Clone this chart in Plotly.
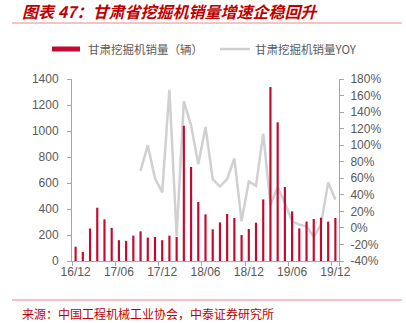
import plotly.graph_objects as go

months = ["16/12", "17/01", "17/02", "17/03", "17/04", "17/05", "17/06", "17/07", "17/08", "17/09",
          "17/10", "17/11", "17/12", "18/01", "18/02", "18/03", "18/04", "18/05", "18/06", "18/07",
          "18/08", "18/09", "18/10", "18/11", "18/12", "19/01", "19/02", "19/03", "19/04", "19/05",
          "19/06", "19/07", "19/08", "19/09", "19/10", "19/11", "19/12"]
sales = [110, 70, 250, 410, 320, 255, 160, 155, 195, 228,
         180, 185, 160, 195, 185, 1040, 723, 454, 359, 244,
         297, 362, 331, 200, 246, 295, 474, 1338, 1067, 569,
         382, 251, 303, 323, 333, 303, 331]
yoy = [None, None, None, None, None, None, None, None, None, 69,
       100, 60, 43, 167, -10, 153, 124, 77, 122, 59,
       50, 59, 84, 8, 56, 51, 114, 28, 49, 30,
       8, 4, 2, -11, 4, 55, 34]
tick_labels = ["16/12", "17/06", "17/12", "18/06", "18/12", "19/06", "19/12"]
left_ticks = [0, 200, 400, 600, 800, 1000, 1200, 1400]
right_ticks = [-40, -20, 0, 20, 40, 60, 80, 100, 120, 140, 160, 180]
right_labels = [f"{v}%" for v in right_ticks]

RED = "#C3092F"
GRAY_LINE = "#D0D0D0"
AXIS = "#A6A6A6"
TICKFONT = dict(family="Liberation Sans, Arial, sans-serif", size=12, color="#595959")
CJK = "Noto Sans CJK SC"

fig = go.Figure()
# YOY line on the primary (right-side) axis so that the bars, on the overlaying axis, sit on top
fig.add_trace(go.Scatter(x=months, y=yoy, mode="lines", line=dict(color=GRAY_LINE, width=2.5),
                         name="甘肃挖掘机销量YOY", yaxis="y", connectgaps=False))
fig.add_trace(go.Bar(x=months, y=sales, marker=dict(color=RED, line=dict(width=0)),
                     name="甘肃挖掘机销量（辆）", yaxis="y2"))

fig.update_layout(
    width=406, height=323,
    margin=dict(l=72, r=67, t=79, b=62),
    paper_bgcolor="white", plot_bgcolor="white",
    showlegend=False,
    bargap=0.7,
    title=dict(text="<b><i>图表 47：甘肃省挖掘机销量增速企稳回升</i></b>",
               xref="container", yref="container", x=22/406, y=1 - 12/323,
               xanchor="left", yanchor="middle",
               font=dict(family=CJK, size=16, color="#C00000")),
    xaxis=dict(type="category", tickmode="array", tickvals=tick_labels, ticktext=tick_labels,
               tickson="boundaries", ticks="outside", ticklen=4, tickcolor=AXIS, tickangle=0,
               showline=True, linecolor=AXIS, linewidth=1, showgrid=False,
               tickfont=TICKFONT, range=[-0.5, 36.5]),
    yaxis=dict(range=[-40, 180], tickmode="array", tickvals=right_ticks, ticktext=right_labels,
               side="right", ticks="outside", ticklen=4, tickcolor=AXIS,
               showline=True, linecolor=AXIS, linewidth=1, showgrid=False, zeroline=False,
               tickfont=TICKFONT, ticklabelstandoff=4),
    yaxis2=dict(range=[0, 1400], tickvals=left_ticks, overlaying="y", side="left",
                ticks="outside", ticklen=4, tickcolor=AXIS,
                showline=True, linecolor=AXIS, linewidth=1, showgrid=False, zeroline=False,
                tickfont=TICKFONT, ticklabelstandoff=6),
)

def px_x(p):
    return (p - 72) / 267

def px_y(p):
    return (261 - p) / 182

fig.add_shape(type="line", xref="paper", yref="paper", x0=px_x(12), x1=px_x(402),
              y0=px_y(23), y1=px_y(23), line=dict(color="#F2C4C4", width=2))

# Legend (manual)
ly = px_y(49)
fig.add_shape(type="rect", xref="paper", yref="paper", x0=px_x(52), x1=px_x(80),
              y0=ly - 2.5/182, y1=ly + 2.5/182, fillcolor=RED, line=dict(width=0))
fig.add_annotation(xref="paper", yref="paper", x=px_x(86), y=ly, xanchor="left", yanchor="middle",
                   text="甘肃挖掘机销量（辆）", showarrow=False,
                   font=dict(family=CJK, size=11.5, color="#595959"))
fig.add_shape(type="line", xref="paper", yref="paper", x0=px_x(220), x1=px_x(250),
              y0=ly, y1=ly, line=dict(color=GRAY_LINE, width=2.5))
fig.add_annotation(xref="paper", yref="paper", x=px_x(253), y=ly, xanchor="left", yanchor="middle",
                   text="甘肃挖掘机销量YOY", showarrow=False,
                   font=dict(family=CJK, size=11.5, color="#595959"))

# Source
fig.add_shape(type="line", xref="paper", yref="paper", x0=px_x(12), x1=px_x(402),
              y0=px_y(300), y1=px_y(300), line=dict(color="#E8828F", width=1))
fig.add_annotation(xref="paper", yref="paper", x=px_x(20), y=px_y(313), xanchor="left", yanchor="middle",
                   text="来源：中国工程机械工业协会，中泰证券研究所", showarrow=False,
                   font=dict(family=CJK, size=12, color="#C00000"))

fig.write_html("out.html")
